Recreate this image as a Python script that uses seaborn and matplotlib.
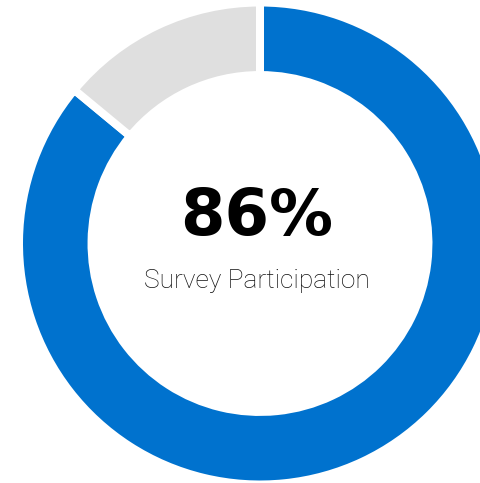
import matplotlib
matplotlib.use("Agg")
import matplotlib.pyplot as plt
import seaborn as sns

sns.set_style("white")
plt.rcParams['font.family'] = ['DejaVu Sans']

labels = ["Participated", "Did not participate"]
values = [86, 14]
colors = ["#0072CE", "#DFDFDF"]
headline = "86%"
subtitle = "Survey Participation"

fig = plt.figure(figsize=(4.80, 4.83), dpi=100)
ax = fig.add_axes([0, 0, 1, 1])
ax.pie(values, colors=colors, startangle=90, counterclock=False,
       radius=1.0,
       wedgeprops=dict(width=0.301, edgecolor="white", linewidth=5.76))
ax.set_aspect("auto")
ax.set_xlim(-260/241, 220/241)
ax.set_ylim(-239.5/241, 243.5/241)
ax.axis("off")

ax.text(-0.012, 0.0353, headline, ha="center", va="baseline",
        fontsize=46, fontweight="bold", color="#000000", family=["DejaVu Sans"])
ax.text(-0.012, -0.183, subtitle, ha="center", va="baseline",
        fontsize=19, fontweight="light", color="#111111", family=["Roboto", "DejaVu Sans"])

fig.savefig("out.png", dpi=100, facecolor="white")
